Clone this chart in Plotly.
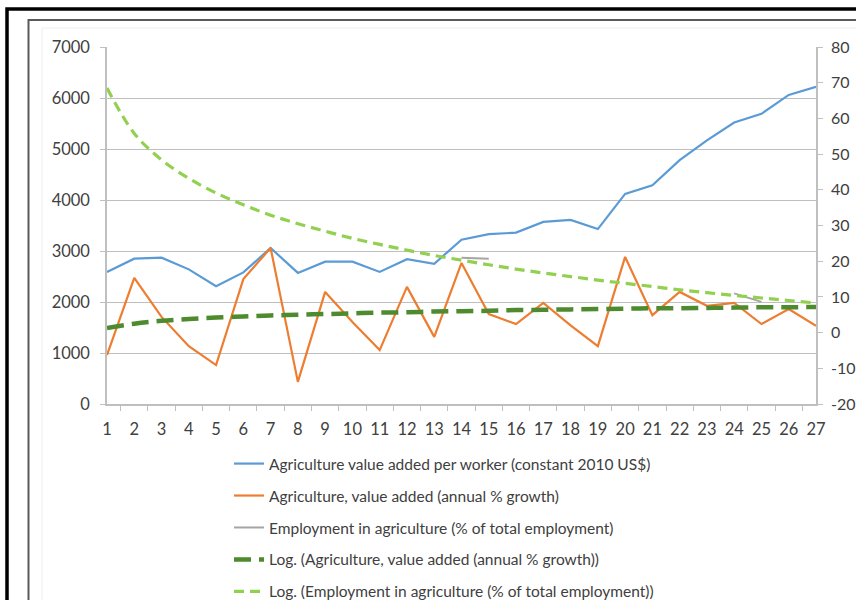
import plotly.graph_objects as go

# ─── Data ─────────────────────────────────────────────────────────────────────
YEARS = [str(i) for i in range(1, 28)]

VALUE_PER_WORKER = [2590, 2850, 2870, 2640, 2310, 2580, 3060, 2570, 2790, 2790,
                    2590, 2840, 2750, 3220, 3330, 3360, 3570, 3610, 3430, 4120,
                    4290, 4780, 5170, 5520, 5690, 6060, 6220]

VALUE_ADDED_GROWTH = [-6.3, 15.3, 4.4, -3.8, -9.1, 15.0, 23.7, -13.8, 11.4, 3.0,
                      -4.9, 12.8, -1.2, 19.5, 5.2, 2.4, 8.3, 2.0, -3.8, 21.2,
                      4.9, 11.4, 7.5, 8.3, 2.4, 6.6, 1.9]

# only a few short pieces of this series are visible in the picture
EMPLOYMENT = [None] * 13 + [21.0, 20.7] + [None] * 8 + [11.0, 8.6] + [None] * 2

TREND_GROWTH = [1.3, 2.5, 3.3, 3.8, 4.2, 4.5, 4.8, 5.0, 5.2, 5.4,
                5.6, 5.7, 5.9, 6.0, 6.1, 6.3, 6.4, 6.5, 6.6, 6.7,
                6.8, 6.8, 6.9, 7.0, 7.1, 7.1, 7.2]

TREND_EMPLOYMENT = [68.5, 55.8, 48.4, 43.2, 39.1, 35.8, 32.9, 30.5, 28.4, 26.4,
                    24.7, 23.1, 21.6, 20.3, 19.0, 17.8, 16.7, 15.7, 14.7, 13.8,
                    12.9, 12.0, 11.2, 10.4, 9.7, 9.0, 8.3]

RIGHT_TICKS = [-20, -10, 0, 10, 20, 30, 40, 50, 60, 70, 80]
RIGHT_LABELS = ["-20", "-10", "0", "10", "20", "30", "40", "50", "60", "70", "80"]

NAMES = [
    "Agriculture value added per worker (constant 2010 US$)",
    "Agriculture, value added (annual % growth)",
    "Employment in agriculture (% of total employment)",
    "Log. (Agriculture, value added (annual % growth))",
    "Log. (Employment in agriculture (% of total employment))",
]

# ─── Style ────────────────────────────────────────────────────────────────────
COLORS = {
    "bleu":        "#5B9BD5",
    "orange":      "#ED7D31",
    "gris":        "#A5A5A5",
    "vert_fonce":  "#4E8A2E",
    "vert_clair":  "#92D050",
    "axe":         "#BFBFBF",
    "texte":       "#404040",
}
FONT = "Lato, Calibri, Arial, sans-serif"

W, H = 856, 600
L, R, T, B = 107, 40, 47, 196
PW, PH = W - L - R, H - T - B


def px(x, y):
    """pixel -> paper coordinates (for frame decorations only)"""
    return (x - L) / PW, (H - B - y) / PH


fig = go.Figure()

fig.add_trace(go.Scatter(
    x=YEARS, y=VALUE_PER_WORKER, name=NAMES[0], mode="lines",
    line=dict(color=COLORS["bleu"], width=2.2), legendgroup="a",
))
fig.add_trace(go.Scatter(
    x=YEARS, y=VALUE_ADDED_GROWTH, name=NAMES[1], mode="lines", yaxis="y2",
    line=dict(color=COLORS["orange"], width=2.2), legendgroup="b",
))
fig.add_trace(go.Scatter(
    x=YEARS, y=EMPLOYMENT, name=NAMES[2], mode="lines", yaxis="y2",
    line=dict(color=COLORS["gris"], width=2), legendgroup="c",
))
fig.add_trace(go.Scatter(
    x=YEARS, y=TREND_GROWTH, name=NAMES[3], mode="lines", yaxis="y2",
    line=dict(color=COLORS["vert_fonce"], width=4.5, dash="17px,8px", shape="spline"),
    legendgroup="d",
))
fig.add_trace(go.Scatter(
    x=YEARS, y=TREND_EMPLOYMENT, name=NAMES[4], mode="lines", yaxis="y2",
    line=dict(color=COLORS["vert_clair"], width=3.2, dash="10px,6px", shape="spline"),
    legendgroup="e",
))

# ─── Frame (screenshot borders) ───────────────────────────────────────────────
shapes = []
for x0, y0, col, w in [(7, 9, "#000000", 3.5), (28.5, 20, "#5A5A5A", 2), (42, 28, "#EEEEEE", 1)]:
    a0, b0 = px(x0, y0)
    a1, b1 = px(W + 30, H + 30)
    shapes.append(dict(type="rect", xref="paper", yref="paper",
                       x0=a0, y0=b0, x1=a1, y1=b1,
                       line=dict(color=col, width=w)))

lx, ly = px(229, 447)

fig.update_layout(
    width=W, height=H,
    margin=dict(l=L, r=R, t=T, b=B, pad=0, autoexpand=False),
    plot_bgcolor="white", paper_bgcolor="white",
    font=dict(family=FONT, size=16.5, color=COLORS["texte"]),
    shapes=shapes,
    showlegend=True,
    legend=dict(
        x=lx, y=ly, xanchor="left", yanchor="top",
        font=dict(size=15.5, color=COLORS["texte"]),
        tracegroupgap=8.8, bgcolor="rgba(0,0,0,0)",
    ),
    xaxis=dict(
        type="category", tickson="boundaries", ticks="outside", ticklen=5,
        tickcolor=COLORS["axe"], showline=True, linecolor=COLORS["axe"],
        linewidth=1.5, showgrid=False, zeroline=False, automargin=False,
        tickfont=dict(size=16.5), ticklabelstandoff=9, tickangle=0,
        fixedrange=True,
    ),
    yaxis=dict(
        range=[0, 7000], dtick=1000, ticks="outside", ticklen=5,
        tickcolor=COLORS["axe"], showline=True, linecolor=COLORS["axe"],
        linewidth=1.5, gridcolor=COLORS["axe"], gridwidth=1.2, zeroline=False,
        automargin=False, tickfont=dict(size=16.5), ticklabelstandoff=7,
    ),
    yaxis2=dict(
        range=[-20, 80], tickvals=RIGHT_TICKS, ticktext=RIGHT_LABELS,
        overlaying="y", side="right",
        ticks="outside", ticklen=5, tickcolor=COLORS["axe"],
        showline=True, linecolor=COLORS["axe"], linewidth=1.5,
        showgrid=False, zeroline=False, automargin=False,
        tickfont=dict(size=16), ticklabelstandoff=5,
    ),
)

# page without the default 8px body margin, so the figure sits at (0, 0)
fig.write_html(
    "out.html",
    config={"displayModeBar": False},
    post_script="document.body.style.margin='0px';document.body.style.overflow='hidden';",
)
